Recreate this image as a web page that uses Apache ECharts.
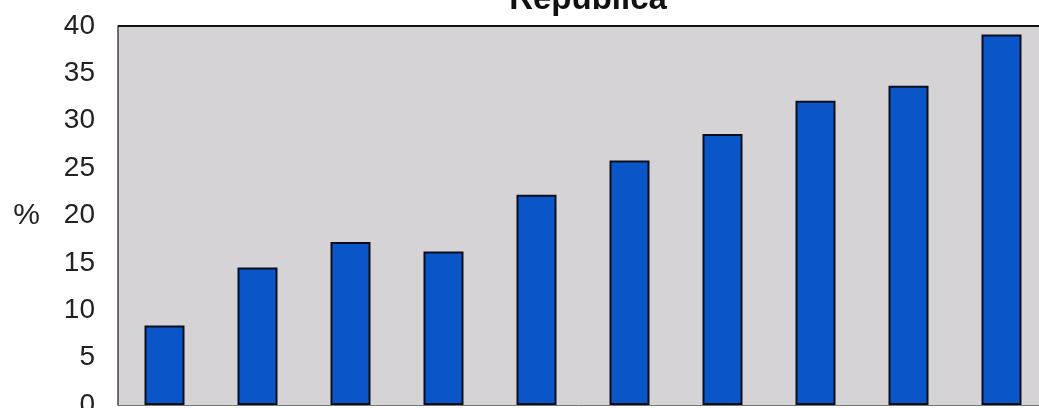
<!DOCTYPE html>
<html>
<head>
<meta charset="utf-8">
<script src="https://cdn.jsdelivr.net/npm/echarts@6/dist/echarts.min.js"></script>
<style>
  html, body { margin: 0; padding: 0; background: #fff; }
  #main { width: 1039px; height: 408px; }
</style>
</head>
<body>
<div id="main"></div>
<script>
// categories are cut off in the source, so plain placeholders
const categories = ['1', '2', '3', '4', '5', '6', '7', '8', '9', '10'];
const values = [8.4, 14.5, 17.2, 16.2, 22.2, 25.8, 28.6, 32.1, 33.7, 39.1];
const yTicks = [0, 5, 10, 15, 20, 25, 30, 35, 40];

const chart = echarts.init(document.getElementById('main'));
chart.setOption({
    animation: false,
    title: {
        text: 'República',
        left: 583,
        textAlign: 'center',
        top: -22,
        textStyle: {
            fontFamily: 'Liberation Sans',
            fontSize: 33,
            fontWeight: 'bold',
            color: '#111',
        },
    },
    grid: {
        left: 118,
        right: -9,
        top: 26,
        bottom: 3,
        outerBoundsMode: 'none',
        containLabel: false,
        show: true,
        backgroundColor: '#d5d3d6',
        borderWidth: 0,
    },
    xAxis: {
        type: 'category',
        data: categories,
        axisLine: { show: true, lineStyle: { color: '#777', width: 1 } },
        axisTick: { show: false },
        axisLabel: { show: false },
    },
    yAxis: {
        type: 'value',
        min: yTicks[0],
        max: yTicks[yTicks.length - 1],
        interval: 5,
        name: '%',
        nameLocation: 'middle',
        nameRotate: 0,
        nameGap: 78,
        nameTextStyle: { fontFamily: 'Liberation Sans', fontSize: 30, color: '#222' },
        axisLine: { show: true, lineStyle: { color: '#444', width: 1.5 } },
        axisTick: { show: false },
        splitLine: { show: false },
        axisLabel: {
            fontFamily: 'Liberation Sans',
            fontSize: 28,
            color: '#222',
            margin: 23,
        },
    },
    graphic: [{
        type: 'line',
        shape: { x1: 118, y1: 26, x2: 1039, y2: 26 },
        style: { stroke: '#111', lineWidth: 2 },
        z: 10,
    }],
    series: [{
        type: 'bar',
        data: values,
        barWidth: 40,
        itemStyle: {
            color: '#0a55c8',
            borderColor: '#0b0f1c',
            borderWidth: 2,
        },
    }],
});
</script>
</body>
</html>
